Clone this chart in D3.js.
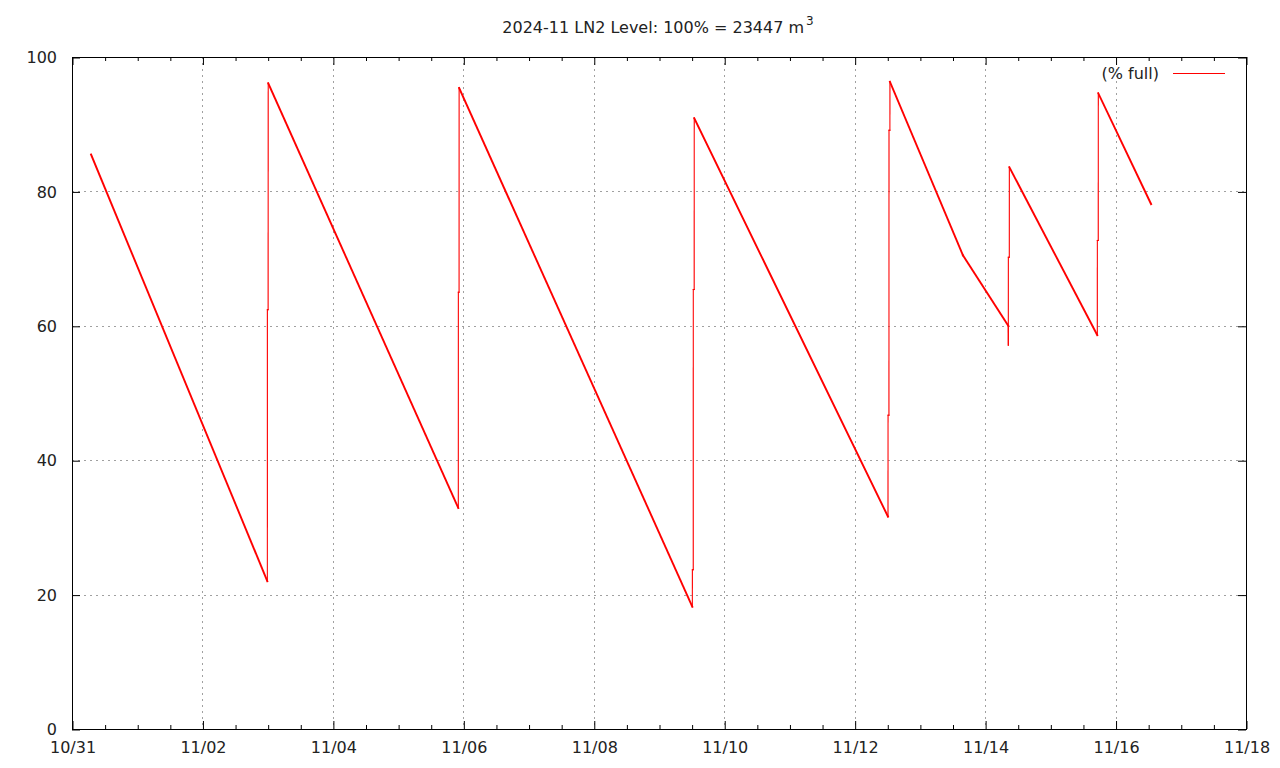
<!DOCTYPE html>
<html>
<head>
<meta charset="utf-8">
<script src="https://cdn.jsdelivr.net/npm/d3@7/dist/d3.min.js"></script>
<style>
  html, body { margin: 0; padding: 0; background: #fff; }
  svg { display: block; font-family: "DejaVu Sans", sans-serif; }
</style>
</head>
<body>
<svg id="chart" width="1280" height="768"></svg>
<script>
// ---- data ----
const times = [
  "2024-10-31 07:00",
  "2024-11-02 23:53", "2024-11-02 23:54", "2024-11-03 00:10", "2024-11-03 00:12",
  "2024-11-05 22:09", "2024-11-05 22:10", "2024-11-05 22:26", "2024-11-05 22:27",
  "2024-11-09 12:16", "2024-11-09 12:17", "2024-11-09 12:36", "2024-11-09 12:37", "2024-11-09 12:57", "2024-11-09 12:58",
  "2024-11-12 12:16", "2024-11-12 12:17", "2024-11-12 12:37", "2024-11-12 12:38", "2024-11-12 12:58", "2024-11-12 12:59",
  "2024-11-13 15:50",
  "2024-11-14 08:31", "2024-11-14 08:32", "2024-11-14 08:33", "2024-11-14 08:54", "2024-11-14 08:55",
  "2024-11-15 17:17", "2024-11-15 17:18", "2024-11-15 17:38", "2024-11-15 17:39",
  "2024-11-16 13:05"
];
const levels = [
  85.5,
  22.0, 62.4, 62.4, 96.1,
  32.9, 65.0, 65.0, 95.4,
  18.2, 23.7, 23.7, 65.4, 65.4, 90.9,
  31.6, 46.7, 46.7, 89.1, 89.1, 96.3,
  70.5,
  60.0, 57.1, 70.2, 70.2, 83.6,
  58.6, 72.7, 72.7, 94.6,
  78.1
];
const xTickLabels = ["10/31","11/02","11/04","11/06","11/08","11/10","11/12","11/14","11/16","11/18"];
const yTicks = [0, 20, 40, 60, 80, 100];
const titleText = "2024-11 LN2 Level: 100% = 23447 m";
const titleSup = "3";
const legendLabel = "(% full)";

// ---- layout ----
const svg = d3.select("#chart");
const L = 72, R = 1246, T = 57, B = 729;
const FS = 16;
const parse = d3.utcParse("%Y-%m-%d %H:%M");
const data = times.map((t, i) => ({ t: parse(t), v: levels[i] }));

const x = d3.scaleUtc()
  .domain([Date.UTC(2024, 9, 31), Date.UTC(2024, 10, 18)])
  .range([L, R]);
const y = d3.scaleLinear().domain([0, 100]).range([B, T]);

const majorDates = xTickLabels.map((s, i) => new Date(Date.UTC(2024, 9, 31) + i * 2 * 86400000));
const minorDates = d3.utcHour.every(12).range(new Date(Date.UTC(2024, 9, 31)), new Date(Date.UTC(2024, 10, 18)))
  .filter(d => !majorDates.some(m => +m === +d));

// grid
const grid = svg.append("g").attr("stroke", "#a0a0a0").attr("stroke-width", 1).attr("stroke-dasharray", "2,4");
majorDates.slice(1, -1).forEach(d => {
  const xx = Math.round(x(d)) + 0.5;
  grid.append("line").attr("x1", xx).attr("x2", xx).attr("y1", T).attr("y2", B);
});
yTicks.slice(1, -1).forEach(v => {
  const yy = Math.round(y(v)) + 0.5;
  grid.append("line").attr("x1", L).attr("x2", R).attr("y1", yy).attr("y2", yy);
});

// axes via d3
const fmtX = d => xTickLabels[majorDates.findIndex(m => +m === +d)];
const axisB = d3.axisBottom(x).tickValues(majorDates).tickSize(-8).tickPadding(13).tickFormat(fmtX);
const axisT = d3.axisTop(x).tickValues(majorDates).tickSize(-8).tickFormat("");
const axisBm = d3.axisBottom(x).tickValues(minorDates).tickSize(-4).tickFormat("");
const axisTm = d3.axisTop(x).tickValues(minorDates).tickSize(-4).tickFormat("");
const axisL = d3.axisLeft(y).tickValues(yTicks).tickSize(-8).tickPadding(15).tickFormat(d3.format("d"));
const axisR = d3.axisRight(y).tickValues(yTicks).tickSize(-8).tickFormat("");

function style(g) {
  g.select(".domain").remove();
  g.selectAll("line").attr("stroke", "#000");
  g.selectAll("text").attr("fill", "#222").attr("font-size", FS).attr("font-family", "DejaVu Sans, sans-serif");
}
svg.append("g").attr("transform", `translate(0.5,${B})`).call(axisB).call(style);
svg.append("g").attr("transform", `translate(0.5,${B})`).call(axisBm).call(style);
svg.append("g").attr("transform", `translate(0.5,${T})`).call(axisT).call(style);
svg.append("g").attr("transform", `translate(0.5,${T})`).call(axisTm).call(style);
svg.append("g").attr("transform", `translate(${L},0.5)`).call(axisL).call(style);
svg.append("g").attr("transform", `translate(${R},0.5)`).call(axisR).call(style);

// frame
svg.append("rect").attr("x", L + 0.5).attr("y", T + 0.5).attr("width", R - L).attr("height", B - T)
  .attr("fill", "none").attr("stroke", "#000").attr("stroke-width", 1);

// data line: drawn as consecutive segments; fill-up jumps are thin, slow declines look thicker
const segs = d3.pairs(data);
svg.append("g").selectAll("line").data(segs).join("line")
  .attr("x1", d => x(d[0].t)).attr("y1", d => y(d[0].v))
  .attr("x2", d => x(d[1].t)).attr("y2", d => y(d[1].v))
  .attr("stroke", "#ff0000")
  .attr("stroke-linecap", "square")
  .attr("stroke-width", d => (d[1].t - d[0].t) < 3600000 ? 1.1 : 1.9);

// title
const title = svg.append("text").attr("x", 658).attr("y", 33).attr("text-anchor", "middle")
  .attr("font-size", FS).attr("fill", "#222");
title.append("tspan").text(titleText);
title.append("tspan").attr("dx", 2).attr("dy", -8).attr("font-size", 12).text(titleSup);

// legend
svg.append("text").attr("x", 1159).attr("y", 79).attr("text-anchor", "end")
  .attr("font-size", FS).attr("fill", "#222").text(legendLabel);
svg.append("line").attr("x1", 1173).attr("x2", 1225).attr("y1", 73.5).attr("y2", 73.5)
  .attr("stroke", "#ff0000").attr("stroke-width", 1);
</script>
</body>
</html>
